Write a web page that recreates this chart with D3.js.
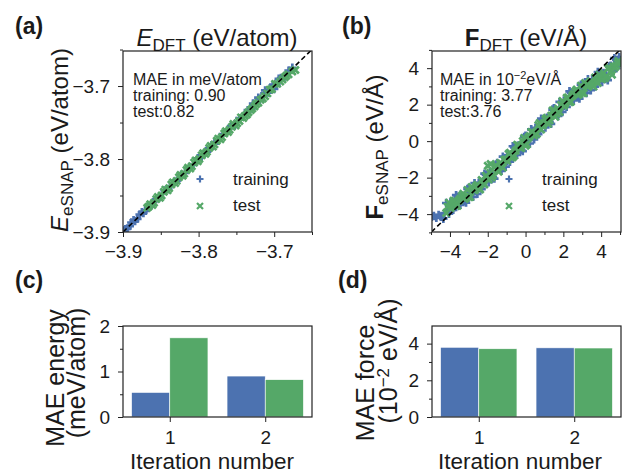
<!DOCTYPE html>
<html>
<head>
<meta charset="utf-8">
<script src="https://cdn.jsdelivr.net/npm/d3@7"></script>
<style>
body { margin: 0; background: #fff; }
text { font-family: "Liberation Sans", Arial, Helvetica, sans-serif; fill: #1a1a1a; }
</style>
</head>
<body>
<svg id="fig" width="630" height="473"></svg>
<script>
// energies, eV/atom : [DFT, eSNAP]
const energyTrain = [[-3.899,-3.898],[-3.894,-3.895],[-3.889,-3.887],[-3.884,-3.885],[-3.878,-3.876],[-3.873,-3.874],
  [-3.867,-3.866],[-3.862,-3.863],[-3.856,-3.855],[-3.851,-3.852],[-3.845,-3.843],[-3.840,-3.841],[-3.834,-3.833],
  [-3.829,-3.830],[-3.823,-3.822],[-3.818,-3.819],[-3.812,-3.811],[-3.807,-3.808],[-3.801,-3.799],[-3.796,-3.797],
  [-3.790,-3.789],[-3.785,-3.786],[-3.779,-3.777],[-3.774,-3.775],[-3.768,-3.766],[-3.763,-3.764],[-3.757,-3.755],
  [-3.752,-3.753],[-3.746,-3.744],[-3.741,-3.742],[-3.735,-3.733],[-3.730,-3.731],[-3.724,-3.722],[-3.719,-3.720],
  [-3.713,-3.710],[-3.708,-3.709],[-3.702,-3.699],[-3.697,-3.698],[-3.691,-3.689],[-3.686,-3.687],[-3.681,-3.679],
  [-3.676,-3.675],[-3.721,-3.716],[-3.712,-3.706],[-3.705,-3.702],[-3.728,-3.724],[-3.700,-3.704],[-3.694,-3.690],
  [-3.897,-3.896],[-3.891,-3.892],[-3.886,-3.884],[-3.881,-3.882],[-3.875,-3.873],[-3.870,-3.871]];
const energyTest = [[-3.868,-3.867],[-3.864,-3.862],[-3.859,-3.860],[-3.854,-3.852],[-3.849,-3.850],[-3.844,-3.842],
  [-3.839,-3.840],[-3.834,-3.832],[-3.829,-3.830],[-3.824,-3.822],[-3.819,-3.820],[-3.814,-3.812],[-3.809,-3.810],
  [-3.804,-3.802],[-3.799,-3.800],[-3.794,-3.792],[-3.789,-3.790],[-3.784,-3.782],[-3.779,-3.780],[-3.774,-3.772],
  [-3.769,-3.770],[-3.764,-3.762],[-3.759,-3.760],[-3.754,-3.752],[-3.749,-3.751],[-3.744,-3.743],[-3.739,-3.741],
  [-3.734,-3.736],[-3.729,-3.731],[-3.724,-3.725],[-3.718,-3.719],[-3.712,-3.714],[-3.706,-3.705],[-3.699,-3.697],
  [-3.692,-3.694],[-3.686,-3.688],[-3.681,-3.684],[-3.672,-3.678],
  [-3.866,-3.865],[-3.861,-3.863],[-3.856,-3.855],[-3.851,-3.853],[-3.846,-3.845],[-3.841,-3.843],[-3.836,-3.835],
  [-3.831,-3.833],[-3.826,-3.825],[-3.821,-3.823],[-3.816,-3.815],[-3.811,-3.813],[-3.806,-3.805],[-3.801,-3.803],
  [-3.796,-3.795],[-3.791,-3.793],[-3.786,-3.785],[-3.781,-3.783],[-3.776,-3.775],[-3.771,-3.773],[-3.766,-3.765],
  [-3.761,-3.763],[-3.756,-3.756],[-3.751,-3.754],[-3.746,-3.748],[-3.741,-3.744],[-3.736,-3.739],[-3.731,-3.733],
  [-3.726,-3.728],[-3.721,-3.723],[-3.715,-3.717],[-3.709,-3.710],[-3.703,-3.704],[-3.696,-3.697],[-3.689,-3.691],
  [-3.684,-3.686],[-3.676,-3.680]];

// force components, eV/A : [DFT, eSNAP]
const forceTrain = [[-4.98,-4.15],[-4.85,-4.10],[-4.72,-4.20],[-4.60,-4.05],[-4.48,-4.15],[-4.35,-4.25],[-4.30,-3.95],
  [-4.20,-3.39],[-4.05,-3.98],[-3.90,-3.42],[-3.75,-3.61],[-3.60,-3.05],[-3.45,-3.49],[-3.30,-3.08],[-3.15,-3.37],
  [-3.00,-2.57],[-2.85,-2.86],[-2.70,-2.30],[-2.55,-2.89],[-2.40,-2.30],[-2.25,-2.45],[-2.10,-1.85],[-1.95,-2.25],
  [-1.80,-1.80],[-1.65,-2.05],[-1.50,-1.20],[-1.35,-1.45],[-1.20,-0.85],[-1.05,-1.40],[-0.90,-0.80],[-0.75,-0.95],
  [-0.60,-0.35],[-0.45,-0.75],[-0.30,-0.30],[-0.15,-0.55],[0.00,0.30],[0.15,0.05],[0.30,0.65],[0.45,0.10],
  [0.60,0.70],[0.75,0.55],[0.90,1.15],[1.05,0.75],[1.20,1.20],[1.35,0.95],[1.50,1.80],[1.65,1.55],[1.80,2.15],
  [1.95,1.60],[2.10,2.20],[2.25,2.05],[2.40,2.65],[2.55,2.23],[2.70,2.63],[2.85,2.33],[3.00,3.14],[3.15,2.84],
  [3.30,3.39],[3.45,2.79],[3.60,3.34],[3.75,3.14],[3.90,3.69],[4.05,3.24],[4.20,3.64],[4.35,3.34],[4.50,4.14],
  [4.65,3.84],[4.80,4.45],[4.95,4.60],[4.95,4.15],[4.70,4.55],
  [-4.125,-3.79],[-3.975,-3.38],[-3.825,-3.77],[-3.675,-2.96],[-3.525,-3.30],[-3.375,-2.99],[-3.225,-3.28],
  [-3.075,-2.62],[-2.925,-2.76],[-2.775,-3.05],[-2.625,-2.69],[-2.475,-2.28],[-2.325,-2.63],[-2.175,-1.78],
  [-2.025,-2.08],[-1.875,-1.73],[-1.725,-1.98],[-1.575,-1.28],[-1.425,-1.38],[-1.275,-1.63],[-1.125,-1.23],
  [-0.975,-0.78],[-0.825,-1.13],[-0.675,-0.28],[-0.525,-0.58],[-0.375,-0.23],[-0.225,-0.48],[-0.075,0.23],
  [0.075,0.13],[0.225,-0.13],[0.375,0.28],[0.525,0.73],[0.675,0.38],[0.825,1.23],[0.975,0.93],[1.125,1.28],
  [1.275,1.03],[1.425,1.73],[1.575,1.63],[1.725,1.38],[1.875,1.78],[2.025,2.23],[2.175,1.88],[2.325,2.73],
  [2.475,2.43],[2.625,2.73],[2.775,2.43],[2.925,3.09],[3.075,2.94],[3.225,2.64],[3.375,2.99],[3.525,3.39],
  [3.675,2.99],[3.825,3.79],[3.975,3.44],[4.125,3.74],[4.275,3.44],[4.425,4.09],[4.575,3.94],[4.725,4.19],[4.875,4.35]];
const forceTest = [[-4.20,-3.94],[-4.05,-3.38],[-3.90,-3.57],[-3.75,-3.26],[-3.60,-3.55],[-3.45,-3.14],[-3.30,-2.88],
  [-3.15,-3.12],[-3.00,-3.07],[-2.85,-2.51],[-2.70,-2.70],[-2.55,-2.39],[-2.40,-2.65],[-2.25,-2.20],[-2.10,-1.90],
  [-1.95,-2.10],[-1.80,-2.00],[-1.65,-1.40],[-1.50,-1.55],[-1.35,-1.20],[-1.20,-1.45],[-1.05,-1.00],[-0.90,-0.70],
  [-0.75,-0.90],[-0.60,-0.80],[-0.45,-0.20],[-0.30,-0.35],[-0.15,0.00],[0.00,-0.25],[0.15,0.20],[0.30,0.50],
  [0.45,0.30],[0.60,0.40],[0.75,1.00],[0.90,0.85],[1.05,1.20],[1.20,0.95],[1.35,1.40],[1.50,1.70],[1.65,1.50],
  [1.80,1.60],[1.95,2.20],[2.10,2.05],[2.25,2.40],[2.40,2.15],[2.55,2.58],[2.70,2.83],[2.85,2.58],[3.00,2.64],
  [3.15,3.19],[3.30,2.99],[3.45,3.29],[3.60,2.99],[3.75,3.39],[3.90,3.64],[4.05,3.39],[4.20,3.44],[4.35,3.99],
  [4.50,3.79],[4.65,4.09],[4.80,4.14],[4.92,4.40],[4.98,4.30],[-2.00,-1.35],[-1.85,-1.25],
  [-4.125,-3.59],[-3.975,-3.68],[-3.825,-3.27],[-3.675,-3.56],[-3.525,-3.25],[-3.375,-2.99],[-3.225,-3.18],
  [-3.075,-2.67],[-2.925,-3.06],[-2.775,-2.65],[-2.625,-2.49],[-2.475,-2.58],[-2.325,-2.13],[-2.175,-2.38],
  [-2.025,-2.03],[-1.875,-1.73],[-1.725,-1.88],[-1.575,-1.33],[-1.425,-1.68],[-1.275,-1.23],[-1.125,-1.03],
  [-0.975,-1.08],[-0.825,-0.63],[-0.675,-0.88],[-0.525,-0.53],[-0.375,-0.23],[-0.225,-0.38],[-0.075,0.18],
  [0.075,-0.18],[0.225,0.28],[0.375,0.48],[0.525,0.43],[0.675,0.88],[0.825,0.63],[0.975,0.98],[1.125,1.28],
  [1.275,1.13],[1.425,1.68],[1.575,1.33],[1.725,1.78],[1.875,1.98],[2.025,1.93],[2.175,2.38],[2.325,2.13],
  [2.475,2.48],[2.625,2.73],[2.775,2.53],[2.925,3.04],[3.075,2.64],[3.225,3.04],[3.375,3.19],[3.525,3.09],
  [3.675,3.49],[3.825,3.19],[3.975,3.49],[4.125,3.74],[4.275,3.54],[4.425,4.04],[4.575,3.64],[4.725,4.04],[4.875,4.29]];

// MAE per iteration
const iterations = [1, 2];
const maeEnergyTrain = [0.54, 0.90];
const maeEnergyTest = [1.74, 0.82];
const maeForceTrain = [3.80, 3.77];
const maeForceTest = [3.72, 3.76];

// ticks
const energyTicks = [-3.9, -3.8, -3.7];
const energyMinor = [-3.85, -3.75, -3.65];
const forceTicks = [-4, -2, 0, 2, 4];
const forceMinor = [-5, -3, -1, 1, 3, 5];
const maeETicks = [0, 1, 2];
const maeEMinor = [0.5, 1.5];
const maeFTicks = [0, 2, 4];
const maeFMinor = [1, 3];

const blue = "#4c72b0", green = "#55a868";
const svg = d3.select("#fig");

function axes(box, x, y, o) {
  let g = svg.append("g");
  let fmt = o.fmt || (d => d);
  let ax = g.append("g").attr("transform", `translate(0,${box.b})`)
    .call(d3.axisBottom(x).tickValues(o.xt).tickSize(5).tickPadding(o.xpad).tickSizeOuter(0).tickFormat(fmt));
  ax.select(".domain").remove();
  ax.selectAll("text").style("font-size", o.fs + "px").attr("fill", "#1a1a1a");
  if (o.xm) {
    let m = g.append("g").attr("transform", `translate(0,${box.b})`)
      .call(d3.axisBottom(x).tickValues(o.xm).tickSize(3).tickFormat(""));
    m.select(".domain").remove();
  }
  let ay = g.append("g").attr("transform", `translate(${box.l},0)`)
    .call(d3.axisLeft(y).tickValues(o.yt).tickSize(5).tickPadding(8).tickSizeOuter(0).tickFormat(fmt));
  ay.select(".domain").remove();
  ay.selectAll("text").style("font-size", o.fs + "px").attr("fill", "#1a1a1a");
  let m2 = g.append("g").attr("transform", `translate(${box.l},0)`)
    .call(d3.axisLeft(y).tickValues(o.ym).tickSize(3).tickFormat(""));
  m2.select(".domain").remove();
  g.selectAll(".tick line").attr("stroke", "#222").attr("stroke-width", 1);
  return g;
}

function frame(box) {
  svg.append("rect").attr("x", box.l).attr("y", box.t)
    .attr("width", box.r - box.l).attr("height", box.b - box.t)
    .attr("fill", "none").attr("stroke", "#222").attr("stroke-width", 1.2);
}

const plus = s => `M${-s},0H${s}M0,${-s}V${s}`;
const cross = s => `M${-s},${-s}L${s},${s}M${-s},${s}L${s},${-s}`;

function parity(box, id, dom, trainPts, testPts, ticks, minor, fmt) {
  let x = d3.scaleLinear().domain(dom.x).range([box.l, box.r]);
  let y = d3.scaleLinear().domain(dom.y).range([box.b, box.t]);
  svg.append("clipPath").attr("id", id).append("rect")
    .attr("x", box.l).attr("y", box.t).attr("width", box.r - box.l).attr("height", box.b - box.t);
  let g = svg.append("g").attr("clip-path", `url(#${id})`);
  g.selectAll(".tr").data(trainPts).join("path").attr("class", "tr")
    .attr("transform", d => `translate(${x(d[0])},${y(d[1])})`)
    .attr("d", plus(4.2)).attr("stroke", blue).attr("stroke-width", 2.7);
  g.selectAll(".te").data(testPts).join("path").attr("class", "te")
    .attr("transform", d => `translate(${x(d[0])},${y(d[1])})`)
    .attr("d", cross(3.5)).attr("stroke", green).attr("stroke-width", 2.7);
  let lo = Math.min(dom.x[0], dom.y[0]), hi = Math.max(dom.x[1], dom.y[1]);
  g.append("line").attr("x1", x(lo)).attr("y1", y(lo)).attr("x2", x(hi)).attr("y2", y(hi))
    .attr("stroke", "#000").attr("stroke-width", 1.6).attr("stroke-dasharray", "5,3");
  frame(box);
  axes(box, x, y, {xt: ticks, xm: minor, yt: ticks, ym: minor, xpad: 8, fs: 19, fmt: fmt});
  return {x, y};
}

function legend(lx, tx) {
  svg.append("path").attr("transform", `translate(${lx},179)`).attr("d", plus(3.5))
    .attr("stroke", blue).attr("stroke-width", 2.2);
  svg.append("path").attr("transform", `translate(${lx},206)`).attr("d", cross(3))
    .attr("stroke", green).attr("stroke-width", 2.2);
  svg.append("text").attr("x", tx).attr("y", 185).style("font-size", "17px").text("training");
  svg.append("text").attr("x", tx).attr("y", 211).style("font-size", "17px").text("test");
}

function note(x0, lines) {
  lines.forEach((l, i) => {
    let t = svg.append("text").attr("x", x0).attr("y", 85 + i * 16).style("font-size", "16px");
    l(t);
  });
}

function ylab(x0, y0, build) {
  let t = svg.append("text").attr("transform", `translate(${x0},${y0}) rotate(-90)`)
    .attr("text-anchor", "middle").style("font-size", "24px");
  build(t);
}

const boxA = {l: 123, r: 312, t: 51, b: 232};
const boxB = {l: 432, r: 621, t: 51, b: 232};
const boxC = {l: 123, r: 312, t: 326, b: 417};
const boxD = {l: 432, r: 621, t: 326, b: 417};

const f1 = d3.format(".1f");
parity(boxA, "clipA", {x: [-3.9, -3.65], y: [-3.9, -3.652]}, energyTrain, energyTest, energyTicks, energyMinor, f1);
parity(boxB, "clipB", {x: [-4.95, 5.05], y: [-4.98, 4.94]}, forceTrain, forceTest, forceTicks, forceMinor, d3.format("d"));

legend(200, 233);
legend(509, 542);

note(133, [t => t.text("MAE in meV/atom"), t => t.text("training: 0.90"), t => t.text("test:0.82")]);
note(440, [t => { t.append("tspan").text("MAE in 10");
                  t.append("tspan").attr("dy", -6).style("font-size", "11px").text("−2");
                  t.append("tspan").attr("dy", 6).text("eV/Å"); },
           t => t.text("training: 3.77"), t => t.text("test:3.76")]);

// titles
let ta = svg.append("text").attr("x", 217).attr("y", 46).attr("text-anchor", "middle").style("font-size", "24px");
ta.append("tspan").style("font-style", "italic").text("E");
ta.append("tspan").attr("dy", 5).style("font-size", "17px").text("DFT");
ta.append("tspan").attr("dy", -5).text(" (eV/atom)");
let tb = svg.append("text").attr("x", 526).attr("y", 46).attr("text-anchor", "middle").style("font-size", "24px");
tb.append("tspan").style("font-weight", "bold").text("F");
tb.append("tspan").attr("dy", 5).style("font-size", "17px").text("DFT");
tb.append("tspan").attr("dy", -5).text(" (eV/Å)");

ylab(68, 140, t => {
  t.append("tspan").style("font-style", "italic").text("E");
  t.append("tspan").attr("dy", 5).style("font-size", "17px").text("eSNAP");
  t.append("tspan").attr("dy", -5).text(" (eV/atom)");
});
ylab(383, 147, t => {
  t.append("tspan").style("font-weight", "bold").text("F");
  t.append("tspan").attr("dy", 5).style("font-size", "17px").text("eSNAP");
  t.append("tspan").attr("dy", -5).text(" (eV/Å)");
});

// bar panels
function bars(box, train, test, dmax, ticks, minor) {
  let x = d3.scaleLinear().domain([0.51, 2.49]).range([box.l, box.r]);
  let y = d3.scaleLinear().domain([0, dmax]).range([box.b, box.t]);
  let w = 0.4;
  svg.append("g").selectAll("rect").data(iterations).join("rect")
    .attr("x", (d, i) => x(d - w)).attr("width", x(w) - x(0))
    .attr("y", (d, i) => y(train[i])).attr("height", (d, i) => y(0) - y(train[i]))
    .attr("fill", blue).attr("stroke", "#fff").attr("stroke-width", 0.6);
  svg.append("g").selectAll("rect").data(iterations).join("rect")
    .attr("x", d => x(d)).attr("width", x(w) - x(0))
    .attr("y", (d, i) => y(test[i])).attr("height", (d, i) => y(0) - y(test[i]))
    .attr("fill", green).attr("stroke", "#fff").attr("stroke-width", 0.6);
  frame(box);
  axes(box, x, y, {xt: iterations, yt: ticks, ym: minor, xpad: 9, fs: 19});
}

bars(boxC, maeEnergyTrain, maeEnergyTest, 2, maeETicks, maeEMinor);
bars(boxD, maeForceTrain, maeForceTest, 4.96, maeFTicks, maeFMinor);

svg.append("text").attr("x", 212).attr("y", 469).attr("text-anchor", "middle").style("font-size", "22.5px").text("Iteration number");
svg.append("text").attr("x", 520).attr("y", 469).attr("text-anchor", "middle").style("font-size", "22.5px").text("Iteration number");

function ylab2(x0, y0, s, size) {
  let t = svg.append("text").attr("transform", `translate(${x0},${y0}) rotate(-90)`)
    .attr("text-anchor", "middle").style("font-size", size + "px");
  s(t);
}
ylab2(64, 378, t => t.text("MAE energy"), 25);
ylab2(85, 373, t => t.text("(meV/atom)"), 25);
ylab2(374, 383, t => t.text("MAE force"), 25);
ylab2(397, 361, t => {
  t.append("tspan").text("(10");
  t.append("tspan").attr("dy", -8).style("font-size", "17px").text("−2");
  t.append("tspan").attr("dy", 8).text(" eV/Å)");
}, 25);

// panel letters
[["(a)", 15, 34], ["(b)", 342, 34], ["(c)", 15, 288], ["(d)", 338, 288]].forEach(p => {
  svg.append("text").attr("x", p[1]).attr("y", p[2]).style("font-size", "23px").style("font-weight", "bold").text(p[0]);
});
</script>
</body>
</html>
